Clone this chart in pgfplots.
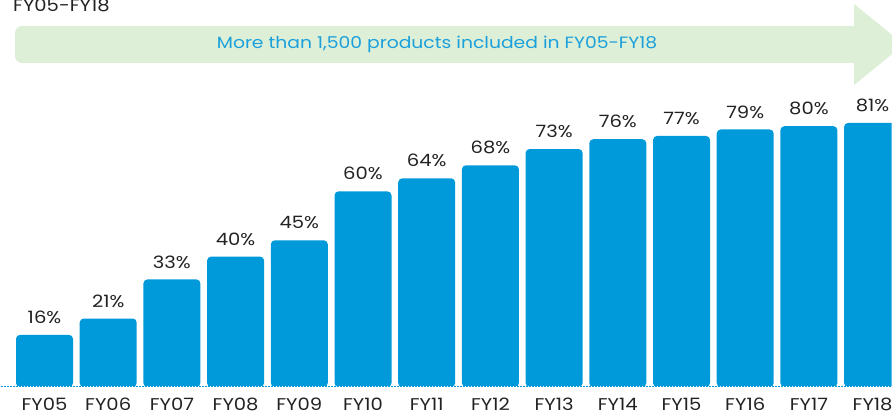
\documentclass[border=0pt]{standalone}
\usepackage{pgfplots}
\usepackage{pgfplotstable}
\pgfplotsset{compat=1.18}
\usepackage{fontspec}
\setmainfont{Poppins}[FakeStretch=1.15]
\definecolor{barblue}{HTML}{0099D9}
\definecolor{arrowgreen}{HTML}{DDEFD6}
\definecolor{arrowtext}{HTML}{1BA0DC}
\definecolor{labeltext}{HTML}{222222}

\pgfplotstableread{
i v
0 16
1 21
2 33
3 40
4 45
5 60
6 64
7 68
8 73
9 76
10 77
11 79
12 80
13 81
}\sharetable

\begin{document}
\begin{tikzpicture}
\begin{axis}[
  x=63.7pt, y=3.26pt,
  xmin=-0.7, xmax=13.3, ymin=4, ymax=95,
  axis line style={draw=none},
  major tick length=0pt,
  ytick=\empty,
  xtick={0,...,13},
  xticklabels={FY05,FY06,FY07,FY08,FY09,FY10,FY11,FY12,FY13,FY14,FY15,FY16,FY17,FY18},
  xticklabel style={inner sep=0pt, yshift=-11pt, text=labeltext, font=\fontsize{17}{20}\selectfont},
  /pgf/number format/assume math mode=true,
]
\addplot[ybar, bar width=57pt, fill=barblue, draw=none, rounded corners=4pt,
  point meta=explicit,
  nodes near coords={\pgfmathprintnumber{\pgfplotspointmeta}\%},
  every node near coord/.append style={inner sep=0pt, yshift=11pt, anchor=south,
    text=labeltext, font=\fontsize{17}{20}\selectfont}]
  table[x=i, y expr=\thisrow{v}+4, meta=v] {\sharetable};
\draw[white, line width=1.5pt, dash pattern=on 1.5pt off 1.5pt] (axis cs:-0.7,4) -- (axis cs:13.3,4);
\draw[barblue, line width=1.5pt, dash pattern=on 1.5pt off 1.5pt, dash phase=1.5pt] (axis cs:-0.7,4) -- (axis cs:13.3,4);
% lower left corner of the picture: 28pt below the baseline, 44.5pt left of FY05
\coordinate (O) at (axis cs:-0.6986,-4.589);
\end{axis}
\pgfresetboundingbox
\begin{scope}[shift={(O)}, x=1pt, y=1pt]
\path[use as bounding box] (0,0) rectangle (892,415);
% banner arrow
\fill[arrowgreen] (854,389) -- (22,389) arc[start angle=90,end angle=180,radius=7]
  -- (15,359) arc[start angle=180,end angle=270,radius=7] -- (854,352)
  -- (854,330) -- (904,370.5) -- (854,411) -- cycle;
\node[text=arrowtext, font=\fontsize{16.3}{19}\selectfont] at (437,371)
  {More than 1,500 products included in FY05-FY18};
\node[anchor=base west, inner sep=0pt, text=labeltext, font=\fontsize{17}{20}\selectfont]
  at (13,403) {FY05-FY18};
\end{scope}
\end{tikzpicture}
\end{document}
